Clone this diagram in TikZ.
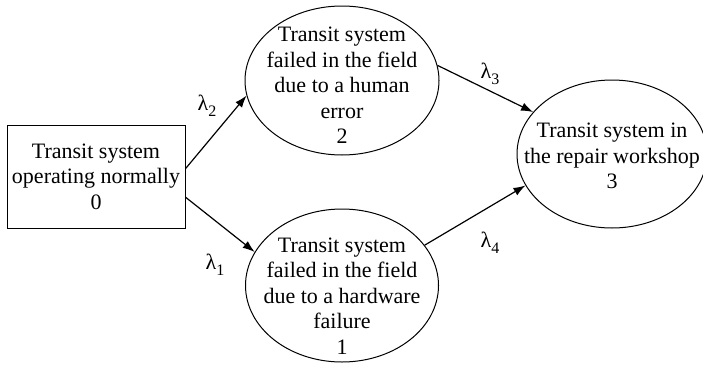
\documentclass[tikz,border=0pt]{standalone}
\usepackage{fontspec}
\setmainfont{Liberation Serif}
\usetikzlibrary{arrows.meta,shapes.geometric}

\newcommand{\ratesym}[1]{λ\raisebox{-0.28em}{\fontsize{16}{16}\selectfont #1}}

\tikzset{
  statebox/.style={draw, line width=1pt, rectangle, inner sep=0pt,
    minimum width=178pt, minimum height=103pt, align=center},
  stateoval/.style={draw, line width=1pt, ellipse, inner sep=0pt},
  ovaltext/.style={align=center, inner sep=0pt},
  trans/.style={line width=1.2pt, -{Latex[length=12pt,width=8.5pt]}},
  rate/.style={inner sep=0pt}
}

\begin{document}
\begin{tikzpicture}[x=1pt,y=-1pt,
  every node/.append style={font=\fontsize{22}{25.5}\selectfont}]
  \useasboundingbox (0,0) rectangle (703,364);

  % states of the Markov model
  \node[statebox] (s0) at (96,176.5)
    {Transit system\\operating normally\\0};
  \node[stateoval, minimum width=194pt, minimum height=149pt,
        label={[ovaltext, yshift=-5pt]center:{Transit system\\failed in the field\\due to a human\\error\\2}}]
    (s2) at (342,80.5) {};
  \node[stateoval, minimum width=193pt, minimum height=153pt,
        label={[ovaltext, yshift=-10.5pt]center:{Transit system\\failed in the field\\due to a hardware\\failure\\1}}]
    (s1) at (342,285.5) {};
  \node[stateoval, minimum width=190pt, minimum height=148pt,
        label={[ovaltext, yshift=-2pt]center:{Transit system in\\the repair workshop\\3}}]
    (s3) at (612,154) {};

  % transitions
  \draw[trans] (s0.5.5) -- (s2.189.6);
  \draw[trans] (s0.-13.6) -- (s1.159.4);
  \draw[trans] (s2.9.1) -- (s3.152.3);
  \draw[trans] (s1.26.6) -- (s3.200.8);

  % transition rates
  \node[rate] (l2) at (207,106) {\ratesym{2}};
  \node[rate] (l1) at (215,265) {\ratesym{1}};
  \node[rate] (l3) at (490,74) {\ratesym{3}};
  \node[rate] (l4) at (490,243) {\ratesym{4}};
\end{tikzpicture}
\end{document}
